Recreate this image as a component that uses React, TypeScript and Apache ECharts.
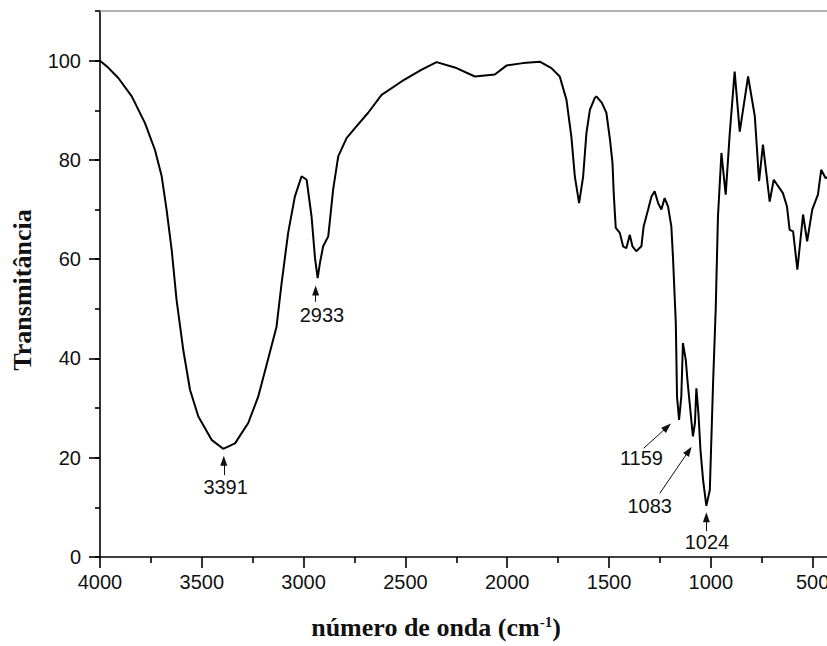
import React, { useEffect, useRef } from "react";
import * as echarts from "echarts";

// Wavenumber (cm-1), descending
const wavenumbers = [
  4000, 3960, 3910, 3844, 3779, 3730, 3697, 3673, 3648, 3624, 3591, 3558, 3517, 3452, 3395, 3337,
  3272, 3223, 3180, 3133, 3108, 3076, 3043, 3010, 2985, 2961, 2944, 2931, 2920, 2904, 2879, 2855,
  2830, 2789, 2748, 2683, 2617, 2519, 2420, 2347, 2249, 2159, 2061, 2004, 1922, 1840, 1783, 1742,
  1709, 1685, 1668, 1647, 1627, 1611, 1594, 1570, 1562, 1535, 1513, 1495, 1483, 1477, 1467, 1447,
  1431, 1415, 1398, 1385, 1366, 1341, 1330, 1308, 1292, 1276, 1259, 1243, 1227, 1210, 1194, 1186,
  1172, 1166, 1156, 1145, 1137, 1123, 1115, 1104, 1088, 1078, 1071, 1061, 1051, 1038, 1022, 1005,
  989, 976, 965, 948, 927, 907, 883, 858, 817, 784, 763, 744, 711, 691, 646, 626,
  613, 596, 575, 547, 527, 502, 474, 458, 436, 410,
];

// Transmittance (%)
const transmittance = [
  100, 98.6, 96.5, 92.8, 87.4, 82, 76.7, 70, 61.9, 51.8, 41.7, 33.7, 28.3, 23.6, 21.8, 22.9,
  27, 32.3, 39, 46.4, 55.2, 65.3, 72.6, 76.7, 76, 68.6, 60.2, 56.2, 59.2, 62.6, 64.6, 74,
  80.7, 84.4, 86.4, 89.5, 93.1, 95.8, 98.2, 99.7, 98.5, 96.8, 97.2, 99, 99.5, 99.8, 98.5, 96.8,
  92.1, 84.7, 76.7, 71.3, 76.7, 85.4, 90.1, 92.5, 92.8, 91.5, 89.5, 84, 79.4, 73.3, 66.3, 65.3,
  62.6, 62.2, 64.9, 62.6, 61.6, 62.6, 66.6, 70, 72.6, 73.7, 71.3, 70, 72.3, 70.6, 66.6, 60.5,
  47.1, 32.3, 27.6, 32.3, 43.1, 39.7, 35.7, 31, 24.3, 27, 34, 29, 21.6, 15.5, 10.3, 13.5,
  35, 50, 68.6, 81.4, 73, 85.4, 97.8, 85.7, 96.8, 88.8, 75.7, 83.1, 71.6, 76, 73.3, 70.6,
  65.9, 65.6, 57.9, 69, 63.6, 70, 73, 78, 76.3, 77,
];

const xTickValues = [4000, 3500, 3000, 2500, 2000, 1500, 1000, 500];
const xMinorTickValues = [3750, 3250, 2750, 2250, 1750, 1250, 750];
const yTickValues = [0, 20, 40, 60, 80, 100];

// Peak annotations (data coordinates: wavenumber, transmittance)
const peakNames = ["3391", "2933", "1159", "1083", "1024"];
const peakArrowFrom = [
  [3392, 16.5],
  [2941, 51.4],
  [1330, 21.9],
  [1251, 12.8],
  [1022, 5.2],
];
const peakArrowTo = [
  [3392, 19.4],
  [2941, 53.7],
  [1214, 26.2],
  [1108, 21.4],
  [1022, 8.0],
];
const peakLabelAt = [
  [3383, 14.2],
  [2910, 48.8],
  [1341, 20.0],
  [1300, 10.3],
  [1019, 3.1],
];

const SANS = '"Liberation Sans", Arial, Helvetica, sans-serif';
const SERIF = '"Liberation Serif", "Times New Roman", serif';

export default function App() {
  const ref = useRef<HTMLDivElement | null>(null);

  useEffect(() => {
    if (!ref.current) return;
    const chart = echarts.init(ref.current, undefined, { renderer: "svg" });

    const axisBase = {
      type: "value",
      min: 400,
      max: 4000,
      inverse: true,
      splitLine: { show: false },
    };
    const yBase = {
      type: "value",
      min: 0,
      max: 110,
      splitLine: { show: false },
    };
    const plain = (v: number) => String(v);

    const option: any = {
      animation: false,
      backgroundColor: "#ffffff",
      grid: {
        left: 100,
        width: 733,
        top: 11,
        height: 546,
        containLabel: false,
        outerBoundsMode: "none",
      },
      xAxis: [
        {
          ...axisBase,
          position: "bottom",
          axisLine: { show: true, onZero: false, lineStyle: { color: "#000", width: 1.6 } },
          axisTick: {
            show: true,
            customValues: xTickValues,
            length: 11,
            lineStyle: { color: "#000", width: 1.6 },
          },
          axisLabel: {
            show: true,
            customValues: xTickValues,
            formatter: plain,
            fontSize: 20,
            fontFamily: SANS,
            color: "#111",
            margin: 15,
          },
        },
        {
          ...axisBase,
          position: "bottom",
          axisLine: { show: false, onZero: false },
          axisTick: {
            show: true,
            customValues: xMinorTickValues,
            length: 6,
            lineStyle: { color: "#000", width: 1.6 },
          },
          axisLabel: { show: false },
        },
        {
          ...axisBase,
          position: "top",
          axisLine: { show: true, onZero: false, lineStyle: { color: "#9a9a9a", width: 1.6 } },
          axisTick: { show: false },
          axisLabel: { show: false },
        },
      ],
      yAxis: [
        {
          ...yBase,
          position: "left",
          interval: 10,
          axisLine: { show: true, onZero: false, lineStyle: { color: "#000", width: 1.6 } },
          axisTick: { show: true, length: 5, lineStyle: { color: "#000", width: 1.6 } },
          axisLabel: {
            show: true,
            customValues: yTickValues,
            formatter: plain,
            fontSize: 20,
            fontFamily: SANS,
            color: "#111",
            margin: 19,
          },
        },
        {
          ...yBase,
          position: "left",
          axisLine: { show: false, onZero: false },
          axisTick: {
            show: true,
            customValues: yTickValues,
            length: 11,
            lineStyle: { color: "#000", width: 1.6 },
          },
          axisLabel: { show: false },
        },
      ],
      series: [
        {
          type: "line",
          xAxisIndex: 0,
          yAxisIndex: 0,
          data: wavenumbers.map((w, i) => [w, transmittance[i]]),
          showSymbol: false,
          symbol: "none",
          lineStyle: { color: "#000", width: 2 },
          markLine: {
            silent: true,
            symbol: ["none", "triangle"],
            symbolSize: [7, 10],
            itemStyle: { color: "#111" },
            lineStyle: { color: "#111", width: 1, type: "solid", opacity: 1 },
            label: { show: false },
            data: peakNames.map((_, i) => [
              { coord: peakArrowFrom[i] },
              { coord: peakArrowTo[i] },
            ]),
          },
        },
        {
          type: "scatter",
          xAxisIndex: 0,
          yAxisIndex: 0,
          silent: true,
          symbol: "circle",
          symbolSize: 0.01,
          itemStyle: { color: "#ffffff", opacity: 1 },
          data: peakLabelAt.map((p, i) => ({ value: p, name: peakNames[i] })),
          label: {
            show: true,
            position: "inside",
            formatter: "{b}",
            fontSize: 20,
            fontFamily: SANS,
            color: "#111",
            opacity: 1,
          },
        },
      ],
      graphic: [
        {
          type: "text",
          x: 436,
          y: 627,
          style: {
            text: "número de onda (cm{sup|-1})",
            fontSize: 26,
            fontWeight: "bold",
            fontFamily: SERIF,
            fill: "#111",
            align: "center",
            verticalAlign: "middle",
            rich: {
              sup: {
                fontSize: 15,
                fontWeight: "bold",
                fontFamily: SERIF,
                fill: "#111",
                verticalAlign: "top",
                lineHeight: 15,
              },
            },
          },
        },
        {
          type: "text",
          x: 22,
          y: 290,
          rotation: Math.PI / 2,
          style: {
            text: "Transmitância",
            fontSize: 26,
            fontWeight: "bold",
            fontFamily: SERIF,
            fill: "#111",
            align: "center",
            verticalAlign: "middle",
          },
        },
      ],
    };

    chart.setOption(option);
    return () => {
      chart.dispose();
    };
  }, []);

  return (
    <div
      ref={ref}
      style={{ position: "fixed", left: 0, top: 0, width: 827, height: 646, background: "#fff" }}
    />
  );
}
